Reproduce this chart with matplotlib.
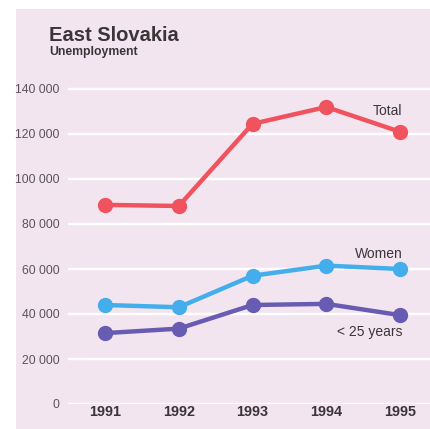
import matplotlib

matplotlib.use("Agg")
import matplotlib.pyplot as plt
from matplotlib.patches import Rectangle

plt.rcParams["font.family"] = ["Liberation Sans", "DejaVu Sans"]

# Unemployment in East Slovakia, 1991-1995
years = [1991, 1992, 1993, 1994, 1995]
total = [88500, 88000, 124500, 132000, 121000]
women = [44000, 43000, 57000, 61500, 60000]
under25 = [31500, 33500, 44000, 44500, 39500]

yticks = [0, 20000, 40000, 60000, 80000, 100000, 120000, 140000]

BG = "#f3e5f0"
RED = "#f0535e"
BLUE = "#44aeec"
PURPLE = "#685cb2"
TEXT = "#3a3538"

W, H = 430, 429
fig = plt.figure(figsize=(W / 100, H / 100), dpi=100)
fig.patch.set_facecolor("white")

# pink panel behind the chart
fig.patches.append(
    Rectangle((16 / W, 0), 1 - 16 / W, 1 - 9 / H, transform=fig.transFigure,
              facecolor=BG, edgecolor="none", zorder=-1)
)

ax = fig.add_axes([68 / W, (H - 404) / H, (W - 68) / W, 344 / H])
ax.set_facecolor("none")

for y in yticks:
    ax.axhline(y, color="white", lw=1.7, zorder=1)

series = [(total, RED), (women, BLUE), (under25, PURPLE)]
for values, colour in series:
    ax.plot(years, values, color=colour, lw=3.2, marker="o", ms=10,
            solid_capstyle="round", zorder=3, clip_on=False)

ax.set_xlim(1991 - 37 / 73.75, 1995 + 30 / 73.75)
ax.set_ylim(0, 344 / 2.25 * 1000)

for spine in ax.spines.values():
    spine.set_visible(False)

ax.set_yticks(yticks)
ax.set_yticklabels([f"{v:,}".replace(",", " ") for v in yticks],
                   fontsize=8.8, color="#5a5458")
ax.tick_params(axis="y", length=0, pad=6)

ax.set_xticks(years)
ax.set_xticklabels([str(y) for y in years], fontsize=10.4,
                   fontweight="bold", color=TEXT)
ax.tick_params(axis="x", length=0, pad=1)

# series labels
ax.text(1995.03, 130000, "Total", ha="right", va="center",
        fontsize=10, color=TEXT)
ax.text(1995.03, 66500, "Women", ha="right", va="center",
        fontsize=10, color=TEXT)
ax.text(1995.03, 31800, "< 25 years", ha="right", va="center",
        fontsize=10, color=TEXT)

fig.text(49 / W, 1 - 41 / H, "East Slovakia", fontsize=14.5,
         fontweight="bold", color=TEXT, va="baseline")
fig.text(49 / W, 1 - 55 / H, "Unemployment", fontsize=8.8,
         fontweight="bold", color=TEXT, va="baseline")

fig.savefig("out.png", dpi=100)
